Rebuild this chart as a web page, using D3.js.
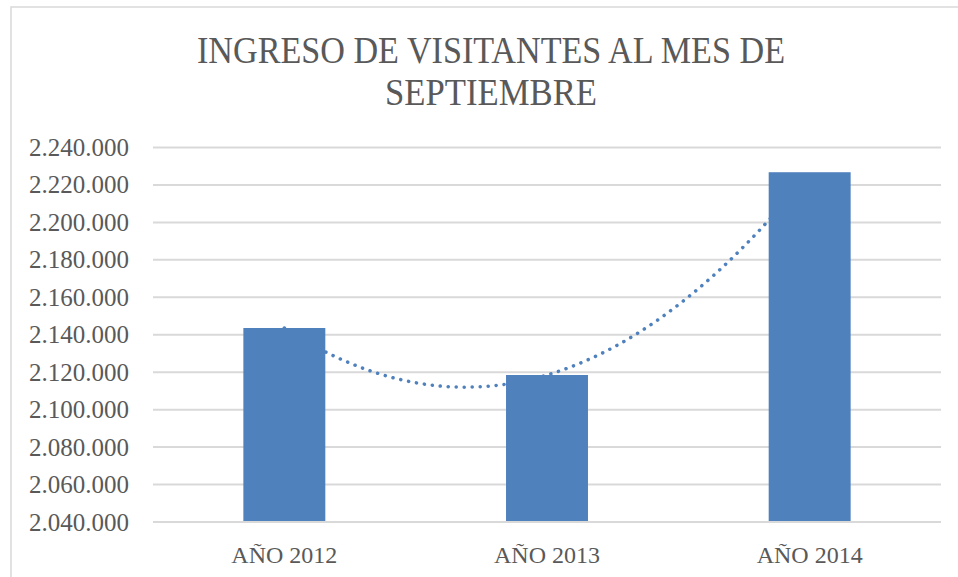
<!DOCTYPE html>
<html>
<head>
<meta charset="utf-8">
<script src="https://cdn.jsdelivr.net/npm/d3@7"></script>
<style>
  body { margin: 0; background: #fff; }
  svg { display: block; }
  text { font-family: "Liberation Serif", "DejaVu Serif", serif; fill: #595959; }
  .grid line { stroke: #d9d9d9; stroke-width: 2; }
</style>
</head>
<body>
<svg></svg>
<script>
// chart data
var titleLines = ["INGRESO DE VISITANTES AL MES DE", "SEPTIEMBRE"];
var categories = ["AÑO 2012", "AÑO 2013", "AÑO 2014"];
var visitors = [2143600, 2118500, 2226800];
var yTicks = [2040000, 2060000, 2080000, 2100000, 2120000, 2140000, 2160000, 2180000, 2200000, 2220000, 2240000];

var width = 958, height = 577;
var svg = d3.select("svg").attr("width", width).attr("height", height);

var barColor = "#4f81bd";

// chart area border
svg.append("rect")
  .attr("x", 11).attr("y", 7)
  .attr("width", width + 10).attr("height", height + 10)
  .attr("fill", "none")
  .attr("stroke", "#d9d9d9")
  .attr("stroke-width", 1.5);

// title
svg.append("g").selectAll("text")
  .data(titleLines)
  .enter().append("text")
  .attr("x", 491)
  .attr("y", function (d, i) { return 63 + i * 42; })
  .attr("text-anchor", "middle")
  .attr("font-size", 38)
  .attr("textLength", function (d, i) { return i === 0 ? 588 : 212; })
  .attr("lengthAdjust", "spacingAndGlyphs")
  .text(function (d) { return d; });

var x = d3.scaleBand()
  .domain(categories)
  .range([153, 941])
  .paddingInner(0.688)
  .paddingOuter(0.344);

var y = d3.scaleLinear()
  .domain([2040000, 2240000])
  .range([522, 147.5]);

var fmt = function (v) { return d3.format(",")(v).replace(/,/g, "."); };

// gridlines
svg.append("g").attr("class", "grid")
  .selectAll("line")
  .data(yTicks)
  .enter().append("line")
  .attr("x1", 153).attr("x2", 941)
  .attr("y1", function (d) { return y(d); })
  .attr("y2", function (d) { return y(d); });

// y axis labels
var yAxis = d3.axisLeft(y).tickValues(yTicks).tickFormat(fmt).tickSize(0).tickPadding(24);
var gy = svg.append("g").attr("transform", "translate(153,0)").call(yAxis);
gy.select(".domain").remove();
gy.selectAll("text")
  .attr("font-size", 25)
  .style("font-family", "Liberation Serif, serif")
  .attr("fill", "#595959");

// polynomial (order 2) trendline, least squares fit on the bar values
function polyFit(xs, ys) {
  var n = xs.length, s = [0, 0, 0, 0, 0], t = [0, 0, 0];
  for (var i = 0; i < n; i++) {
    for (var k = 0; k < 5; k++) s[k] += Math.pow(xs[i], k);
    for (var k2 = 0; k2 < 3; k2++) t[k2] += ys[i] * Math.pow(xs[i], k2);
  }
  var m = [[s[0], s[1], s[2], t[0]], [s[1], s[2], s[3], t[1]], [s[2], s[3], s[4], t[2]]];
  for (var c = 0; c < 3; c++) {
    for (var r = c + 1; r < 3; r++) {
      var f = m[r][c] / m[c][c];
      for (var j = c; j < 4; j++) m[r][j] -= f * m[c][j];
    }
  }
  var coef = [0, 0, 0];
  for (var r2 = 2; r2 >= 0; r2--) {
    var sum = m[r2][3];
    for (var j2 = r2 + 1; j2 < 3; j2++) sum -= m[r2][j2] * coef[j2];
    coef[r2] = sum / m[r2][r2];
  }
  return coef;
}
var idx = visitors.map(function (d, i) { return i; });
var coef = polyFit(idx, visitors);
var trendX = d3.scaleLinear().domain([0, categories.length - 1])
  .range([x(categories[0]) + x.bandwidth() / 2, x(categories[categories.length - 1]) + x.bandwidth() / 2]);
var trendPts = d3.range(0, 2.0001, 0.02).map(function (t) {
  return [t, coef[0] + coef[1] * t + coef[2] * t * t];
});
svg.append("path")
  .datum(trendPts)
  .attr("fill", "none")
  .attr("stroke", barColor)
  .attr("stroke-width", 3.5)
  .attr("stroke-linecap", "round")
  .attr("stroke-dasharray", "0.1 7.9")
  .attr("d", d3.line().x(function (d) { return trendX(d[0]); }).y(function (d) { return y(d[1]); }));

// bars
svg.append("g").selectAll("rect")
  .data(visitors)
  .enter().append("rect")
  .attr("x", function (d, i) { return x(categories[i]); })
  .attr("y", function (d) { return y(d); })
  .attr("width", x.bandwidth())
  .attr("height", function (d) { return y(2040000) - y(d); })
  .attr("fill", barColor);

// x axis line and labels
var xAxis = d3.axisBottom(x).tickSize(0).tickPadding(24);
var gx = svg.append("g").attr("transform", "translate(0,522)").call(xAxis);
gx.select(".domain").attr("stroke", "#d9d9d9").attr("stroke-width", 2)
  .attr("d", "M153,0H941");
gx.selectAll("text")
  .attr("font-size", 24)
  .style("font-family", "Liberation Serif, serif")
  .attr("fill", "#595959");
</script>
</body>
</html>
